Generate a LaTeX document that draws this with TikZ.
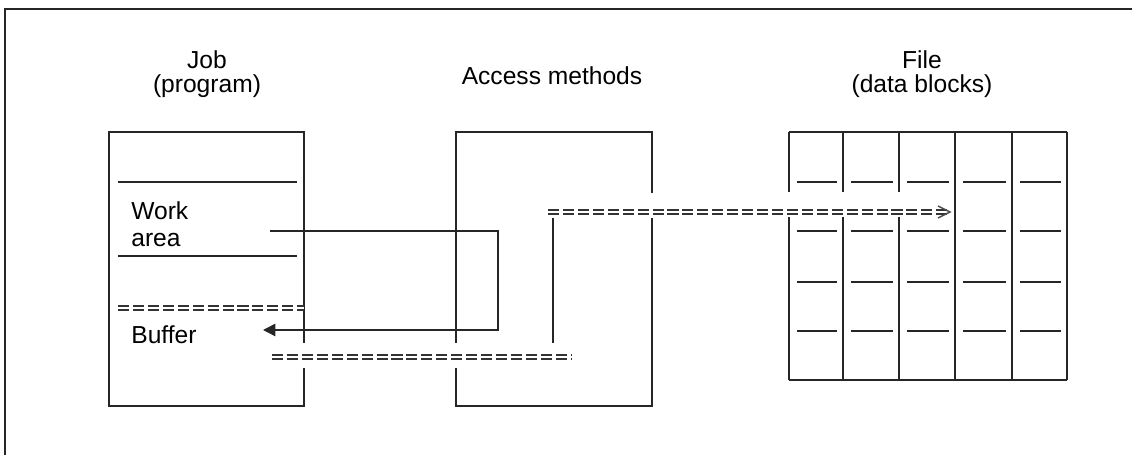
\documentclass[tikz,border=0pt]{standalone}
\usepackage{fontspec}
\setmainfont{Liberation Sans}
\usetikzlibrary{arrows.meta, positioning}
\tikzstyle{heading} = [align=center, inner sep=0pt, font=\fontsize{14}{13.6}\selectfont]
\tikzstyle{boxtext} = [align=left, anchor=west, inner sep=0pt, font=\fontsize{14}{15.3}\selectfont]
\tikzstyle{wall} = [line width=0.85pt, black!85]
\tikzstyle{dbl} = [double, double distance=1.2pt, line width=1.05pt, draw=black!80, dash pattern=on 6.3pt off 2.2pt]
\tikzstyle{arrow} = [line width=0.85pt, black!85, -{Triangle[length=7pt, width=7pt]}]

\begin{document}
\begin{tikzpicture}[x=0.02cm, y=-0.02cm]
\useasboundingbox (0,0) rectangle (1132,455);
% Frame
\draw[wall] (5,455) -- (5,9) -- (1132,9);
% Headings
\node (job) [heading] at (207,74) {Job\\(program)};
\node (access) [heading] at (552,76) {Access methods};
\node (file) [heading] at (922,74) {File\\(data blocks)};
% Job box
\draw[wall] (304,343) -- (304,132) -- (109,132) -- (109,406) -- (304,406) -- (304,368);
\draw[wall] (118,182) -- (297,182);
\draw[wall] (118,256) -- (297,256);
\draw[dbl] (118,308) -- (304,308);
\node (work) [boxtext] at (131,224) {Work\\area};
\node (buffer) [boxtext] at (131,335) {Buffer};
% Access methods box
\draw[wall] (456,343) -- (456,132) -- (652,132) -- (652,193);
\draw[wall] (652,218) -- (652,406) -- (456,406) -- (456,368);
% File blocks
\draw[wall] (789,132) -- (1067,132);
\draw[wall] (789,380) -- (1067,380);
\foreach \x in {955,1012,1067}
  \draw[wall] (\x,132) -- (\x,380);
\foreach \x in {789,843,899} {
  \draw[wall] (\x,132) -- (\x,192);
  \draw[wall] (\x,217) -- (\x,380);
}
\foreach \l/\r in {789/843, 843/899, 899/955, 955/1012, 1012/1067}
  \foreach \y in {182,231,282,331}
    \draw[wall] (\l+8,\y) -- (\r-6,\y);

% Connectors
\coordinate (workout) at (270,231);
\coordinate (bufin) at (263,330);
\coordinate (bufout) at (272,357);
\coordinate (amin) at (572,357);
\coordinate (amup) at (553,218);
\coordinate (amlow) at (553,343);
\coordinate (amout) at (548,212);
\coordinate (blk) at (950,212);
\draw[arrow] (workout) -- (498,231) -- (498,330) -- (bufin);
\draw[dbl] (bufout) -- (amin);
\draw[wall] (amlow) -- (amup);
\draw[dbl] (amout) -- ([xshift=-2]blk);
\draw[wall, black!70] ([shift={(-12,-6)}]blk) -- (blk) -- ([shift={(-12,6)}]blk);
\end{tikzpicture}
\end{document}
